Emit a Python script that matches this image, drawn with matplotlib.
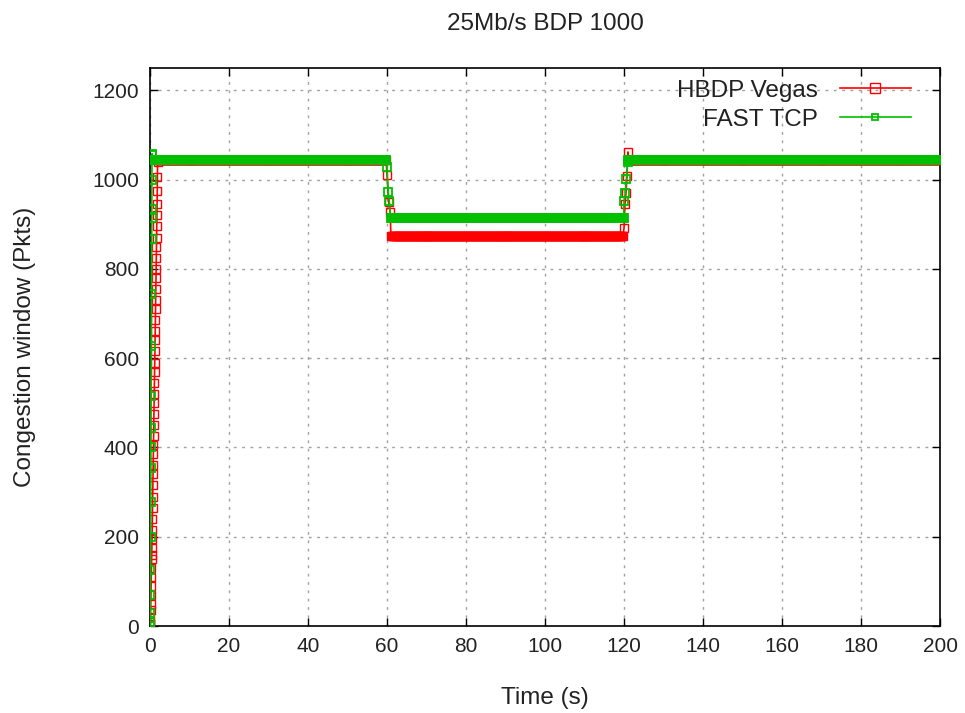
import numpy as np
import matplotlib
matplotlib.use("Agg")
import matplotlib.pyplot as plt

plt.rcParams['font.family'] = ['Liberation Sans', 'DejaVu Sans']

# Slow-start ramps (time in s, cwnd in packets)
vegas_ramp_t = [0.00, 0.04, 0.08, 0.12, 0.16, 0.20, 0.24, 0.28, 0.32, 0.36,
                0.40, 0.44, 0.48, 0.52, 0.56, 0.60, 0.64, 0.68, 0.72, 0.76,
                0.80, 0.84, 0.88, 0.92, 0.96, 1.00, 1.04, 1.08, 1.12, 1.16,
                1.20, 1.24, 1.28, 1.32, 1.36, 1.40, 1.44, 1.48, 1.52, 1.56,
                1.60, 1.64, 1.68, 1.72, 1.76, 1.80, 1.84, 1.88, 1.92]
vegas_ramp_w = [0, 4, 10, 20, 35, 50, 70, 90, 110, 130,
                150, 160, 175, 195, 215, 240, 265, 290, 315, 340,
                360, 385, 405, 425, 450, 475, 500, 520, 545, 570,
                590, 615, 640, 660, 685, 710, 730, 755, 780, 800,
                825, 850, 870, 895, 920, 945, 975, 1005, 1040]

fast_ramp_t = [0.00, 0.03, 0.06, 0.09, 0.12, 0.15, 0.18, 0.21, 0.24, 0.27,
               0.30, 0.33, 0.36, 0.39, 0.42, 0.45, 0.48, 0.51, 0.55]
fast_ramp_w = [0, 10, 30, 69, 125, 200, 277, 353, 400, 444,
               516, 627, 743, 866, 913, 935, 1000, 1058, 1055]

# Transitions when the competing load changes at 60 s and 120 s
vegas_drop_t = [60.0, 60.4, 60.8]
vegas_drop_w = [1011, 950, 928]
vegas_rise_t = [120.0, 120.25, 120.5, 120.75, 121.0]
vegas_rise_w = [891, 946, 969, 1007, 1062]

fast_drop_t = [60.0, 60.3, 60.6]
fast_drop_w = [1029, 973, 951]
fast_rise_t = [120.0, 120.3, 120.6, 120.9]
fast_rise_w = [951, 969, 1002, 1040]

# Steady-state windows in each phase
vegas_levels = [1045, 873, 1045]
fast_levels = [1045, 913, 1045]
vegas_phase_spans = [(2.0, 60.0), (61.0, 120.0), (121.25, 200.0)]
fast_phase_spans = [(0.6, 60.0), (60.9, 120.0), (121.0, 199.5)]
sample_step = 0.25


def build(ramp_t, ramp_w, spans, levels, drop_t, drop_w, rise_t, rise_w, t_end):
    t = list(ramp_t)
    w = list(ramp_w)
    segs = [np.arange(a, b, sample_step) for a, b in spans]
    t += list(segs[0]); w += [levels[0]] * len(segs[0])
    t += drop_t; w += drop_w
    t += list(segs[1]); w += [levels[1]] * len(segs[1])
    t += rise_t; w += rise_w
    t += list(segs[2]) + [t_end]; w += [levels[2]] * (len(segs[2]) + 1)
    return np.array(t), np.array(w)


vt, vw = build(vegas_ramp_t, vegas_ramp_w, vegas_phase_spans, vegas_levels,
               vegas_drop_t, vegas_drop_w, vegas_rise_t, vegas_rise_w, 200.0)
ft, fw = build(fast_ramp_t, fast_ramp_w, fast_phase_spans, fast_levels,
               fast_drop_t, fast_drop_w, fast_rise_t, fast_rise_w, 199.5)

fig = plt.figure(figsize=(9.65, 7.13), dpi=100)
ax = fig.add_axes([150 / 965, 1 - 626 / 713, 790 / 965, 558 / 713])

red = '#ff0000'
green = '#00c000'
ax.plot(vt, vw, color=red, lw=1.2, marker='s', markersize=6.2,
        markerfacecolor='none', markeredgecolor=red, markeredgewidth=1.0,
        label='HBDP Vegas', zorder=3)
ax.plot(ft, fw, color=green, lw=1.2, marker='s', markersize=6.2,
        markerfacecolor='none', markeredgecolor=green, markeredgewidth=1.3,
        label='FAST TCP', zorder=4)

ax.set_xlim(0, 200)
ax.set_ylim(0, 1250)
ax.set_xticks(np.arange(0, 201, 20))
ax.set_yticks(np.arange(0, 1201, 200))
ax.grid(True, color='#a0a0a0', linestyle=(0, (2, 4)), linewidth=1.0)
ax.set_axisbelow(True)
ax.tick_params(direction='in', length=6, width=1.0, top=True, right=True,
               labelsize=15, colors='black', labelcolor='#222222', pad=8)
for s in ax.spines.values():
    s.set_linewidth(1.2)
    s.set_color('black')

ax.set_xlabel('Time (s)', fontsize=17.5, color='#222222', labelpad=22)
ax.set_ylabel('Congestion window (Pkts)', fontsize=17.5, color='#222222', labelpad=40)
ax.set_title('25Mb/s BDP 1000', fontsize=17.5, color='#222222', pad=27)

leg = ax.legend(loc='upper right', bbox_to_anchor=(0.975, 0.996),
                frameon=False, markerfirst=False, numpoints=1,
                fontsize=17.5, handlelength=2.9, handletextpad=0.9,
                borderaxespad=0.0, labelspacing=0.28)
for txt in leg.get_texts():
    txt.set_color('#222222')
leg.legend_handles[0].set_markersize(7.2)
leg.legend_handles[1].set_markersize(4.8)

fig.savefig('out.png', dpi=100)
